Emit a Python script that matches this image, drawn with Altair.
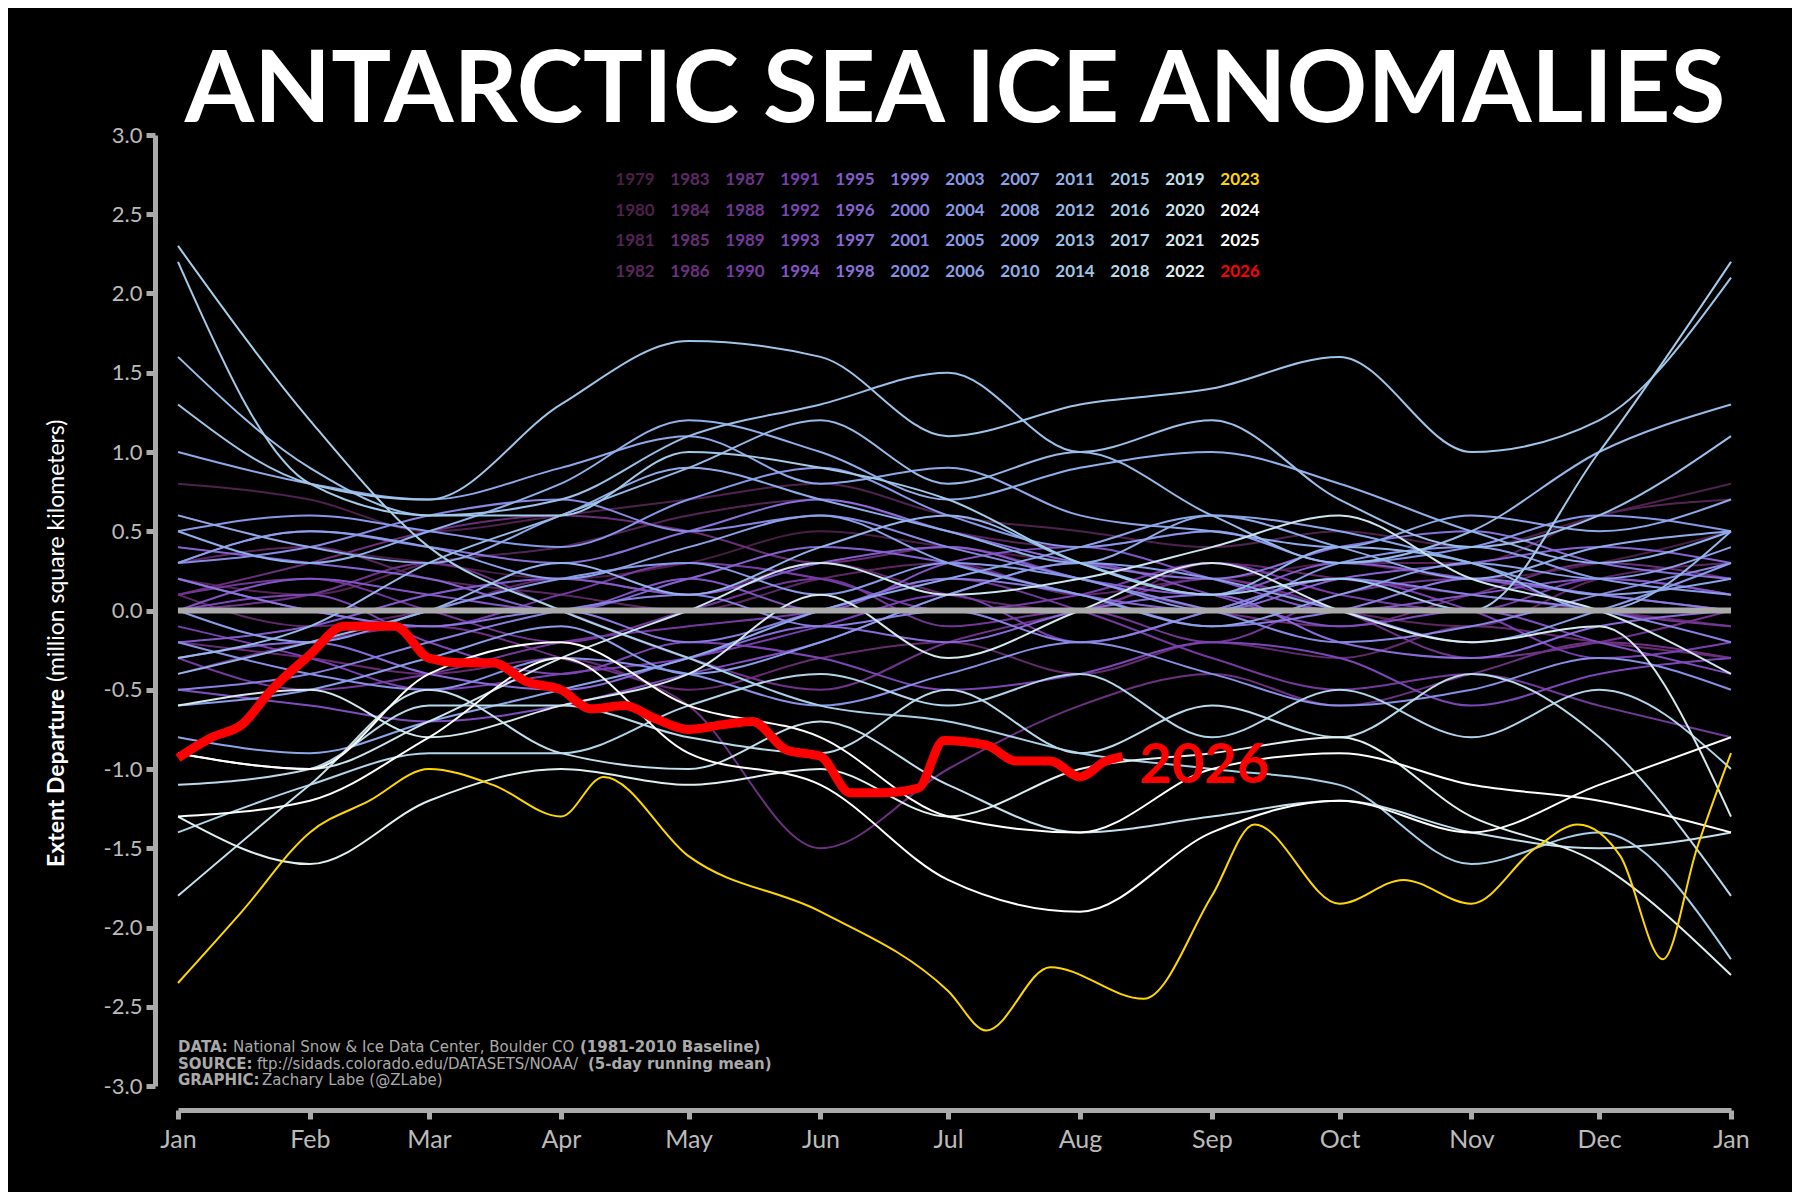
import altair as alt
import pandas as pd

# ---- data -------------------------------------------------------------------
MONTH_DAYS = [0, 31, 59, 90, 120, 151, 181, 212, 243, 273, 304, 334, 365]
MONTH_LABELS = ["Jan", "Feb", "Mar", "Apr", "May", "Jun", "Jul", "Aug",
                "Sep", "Oct", "Nov", "Dec", "Jan"]

history = {
    1979: [0.6, 0.4, 0.3, 0.2, 0.3, 0.5, 0.4, 0.3, 0.2, 0.3, 0.2, 0.3, 0.5],
    1980: [0.8, 0.7, 0.5, 0.6, 0.7, 0.8, 0.6, 0.5, 0.4, 0.5, 0.4, 0.6, 0.8],
    1981: [0.2, 0.1, 0.3, 0.4, 0.6, 0.7, 0.5, 0.4, 0.5, 0.3, 0.3, 0.6, 0.7],
    1982: [0.3, 0.4, 0.2, 0.1, 0.0, 0.2, 0.3, 0.1, 0.2, 0.0, -0.1, 0.2, 0.3],
    1983: [0.1, -0.1, 0.0, 0.2, 0.1, 0.3, 0.1, 0.0, 0.3, 0.2, 0.1, 0.0, -0.1],
    1984: [-0.2, -0.3, -0.4, -0.3, -0.5, -0.3, -0.2, -0.4, -0.2, -0.3, -0.1, -0.2, -0.3],
    1985: [0.1, 0.3, 0.5, 0.6, 0.5, 0.3, 0.4, 0.2, 0.0, -0.1, 0.1, 0.3, 0.2],
    1986: [-0.4, -0.2, -0.1, -0.3, -0.6, -1.5, -1.0, -0.6, -0.4, -0.6, -0.4, -0.2, -0.3],
    1987: [0.0, 0.1, 0.3, 0.0, -0.3, -0.5, -0.2, 0.0, 0.2, 0.0, -0.3, -0.2, 0.0],
    1988: [0.1, 0.2, 0.0, -0.2, 0.0, 0.2, -0.1, 0.0, -0.2, 0.1, 0.2, 0.0, -0.1],
    1989: [-0.3, -0.5, -0.4, -0.2, -0.1, 0.0, 0.2, 0.0, -0.3, -0.5, -0.4, -0.6, -0.8],
    1990: [0.2, 0.0, -0.1, 0.1, 0.3, 0.2, 0.0, 0.1, 0.3, 0.1, 0.0, 0.2, 0.1],
    1991: [-0.1, -0.3, -0.5, -0.4, -0.3, -0.1, 0.1, -0.2, 0.0, 0.2, 0.0, -0.3, -0.2],
    1992: [0.0, 0.1, -0.2, -0.4, -0.2, -0.3, -0.5, -0.4, -0.2, -0.3, -0.6, -0.4, -0.3],
    1993: [-0.5, -0.6, -0.7, -0.6, -0.4, -0.2, 0.1, 0.3, 0.1, -0.1, 0.0, -0.2, -0.4],
    1994: [0.0, 0.2, 0.1, 0.0, 0.2, 0.0, 0.3, 0.4, 0.2, 0.0, 0.1, 0.2, 0.1],
    1995: [-0.2, -0.1, 0.1, 0.2, 0.1, 0.3, 0.4, 0.2, 0.1, 0.3, 0.2, 0.1, 0.0],
    1996: [0.4, 0.3, 0.2, 0.0, 0.2, 0.4, 0.3, 0.1, 0.0, 0.2, 0.3, 0.4, 0.3],
    1997: [-0.3, -0.2, -0.4, -0.5, -0.3, -0.1, -0.2, 0.0, 0.1, -0.2, -0.3, -0.1, 0.0],
    1998: [0.3, 0.5, 0.4, 0.3, 0.5, 0.7, 0.5, 0.3, 0.2, 0.4, 0.5, 0.3, 0.2],
    1999: [0.2, 0.0, -0.1, 0.0, -0.2, 0.0, 0.2, 0.1, -0.1, 0.0, 0.2, 0.1, 0.0],
    2000: [-0.5, -0.4, -0.2, 0.0, 0.1, -0.1, 0.0, -0.2, 0.0, 0.2, 0.1, 0.0, -0.2],
    2001: [0.3, 0.4, 0.6, 0.7, 0.5, 0.6, 0.4, 0.2, 0.0, -0.2, -0.1, 0.1, 0.3],
    2002: [-0.2, -0.4, -0.5, -0.3, -0.4, -0.6, -0.4, -0.2, -0.4, -0.6, -0.5, -0.3, -0.5],
    2003: [0.5, 0.6, 0.5, 0.4, 0.7, 0.9, 0.6, 0.4, 0.5, 0.3, 0.4, 0.6, 0.5],
    2004: [0.0, -0.2, 0.0, 0.2, 0.3, 0.1, 0.3, 0.2, 0.0, 0.3, 0.4, 0.2, 0.1],
    2005: [-0.6, -0.5, -0.3, -0.1, -0.4, -0.2, 0.1, 0.3, 0.2, 0.0, -0.2, 0.0, 0.3],
    2006: [0.3, 0.5, 0.4, 0.2, 0.4, 0.6, 0.3, 0.1, -0.1, 0.1, 0.3, 0.2, 0.4],
    2007: [-0.8, -0.9, -0.7, -0.5, -0.3, 0.0, 0.2, 0.4, 0.6, 0.5, 0.3, 0.1, 0.2],
    2008: [1.0, 0.8, 0.7, 0.9, 1.1, 0.8, 0.9, 0.6, 0.5, 0.4, 0.6, 0.5, 0.7],
    2009: [0.6, 0.4, 0.3, 0.6, 0.9, 0.7, 0.5, 0.3, 0.6, 0.4, 0.2, 0.4, 0.5],
    2010: [0.5, 0.3, 0.5, 0.8, 1.2, 1.0, 0.7, 0.9, 1.0, 0.8, 0.5, 0.3, 0.5],
    2011: [-0.4, -0.2, 0.0, 0.3, 0.1, 0.4, 0.6, 0.3, 0.1, 0.4, 0.3, 0.0, 0.5],
    2012: [-0.3, -0.1, 0.3, 0.6, 0.9, 1.2, 0.8, 1.0, 0.6, 0.3, 0.5, 1.0, 1.3],
    2013: [1.6, 0.9, 0.6, 0.7, 1.1, 1.3, 1.5, 1.0, 1.2, 0.7, 0.4, 0.6, 1.1],
    2014: [1.3, 0.8, 0.7, 1.3, 1.7, 1.6, 1.1, 1.3, 1.4, 1.6, 1.0, 1.2, 2.1],
    2015: [2.2, 0.8, 0.6, 0.6, 1.0, 0.9, 0.7, 0.3, 0.1, 0.2, 0.0, 1.0, 2.2],
    2016: [2.3, 1.2, 0.4, 0.0, -0.3, -0.6, -0.7, -0.9, -1.0, -1.1, -1.6, -1.4, -2.2],
    2017: [-1.4, -1.1, -0.9, -0.9, -0.6, -0.4, -0.6, -0.4, -0.8, -0.5, -0.8, -0.5, -1.0],
    2018: [-1.1, -1.0, -0.6, -0.6, -0.8, -0.9, -0.5, -0.9, -0.6, -0.8, -0.4, -0.8, -1.8],
    2019: [-1.8, -1.1, -0.5, -0.9, -1.0, -0.7, -1.1, -1.4, -1.3, -1.2, -1.4, -1.5, -1.4],
    2020: [-0.9, -1.0, -0.7, -0.3, 0.0, 0.3, 0.1, 0.2, 0.4, 0.6, 0.2, 0.0, -0.4],
    2021: [-0.6, -0.5, -0.8, -0.6, -0.4, 0.1, -0.3, 0.0, 0.3, 0.0, -0.2, -0.1, -1.3],
    2022: [-1.3, -1.6, -1.2, -1.0, -1.1, -1.0, -1.3, -1.0, -0.9, -0.8, -1.3, -1.6, -2.3],
    2024: [-1.3, -1.2, -0.8, -0.3, -0.9, -1.1, -1.7, -1.9, -1.4, -1.2, -1.4, -1.1, -0.8],
    2025: [-0.9, -1.0, -0.4, -0.2, -0.6, -0.8, -1.3, -1.4, -1.0, -0.9, -1.1, -1.2, -1.4],
}

y2023_days = [0, 15, 31, 45, 59, 74, 90, 100, 120, 151, 181, 190, 205, 227, 243, 253,
              273, 288, 304, 319, 329, 339, 349, 357, 365]
y2023_vals = [-2.35, -1.9, -1.4, -1.2, -1.0, -1.1, -1.3, -1.05, -1.55, -1.9, -2.4, -2.65,
              -2.25, -2.45, -1.8, -1.35, -1.85, -1.7, -1.85, -1.5, -1.35, -1.55, -2.2, -1.5, -0.9]

y2026_days = [0, 8, 15, 22, 31, 39, 51, 59, 67, 74, 82, 90, 97, 105, 112, 120, 128, 135,
              143, 151, 158, 165, 174, 180, 190, 197, 205, 212, 218, 222]
y2026_vals = [-0.93, -0.8, -0.72, -0.5, -0.28, -0.1, -0.1, -0.3, -0.33, -0.33, -0.45, -0.5,
              -0.62, -0.6, -0.68, -0.75, -0.72, -0.7, -0.88, -0.92, -1.15, -1.15, -1.12, -0.82,
              -0.85, -0.95, -0.95, -1.05, -0.95, -0.92]

# colour ramp anchors (style)
RAMP = [(1979, (74, 31, 69)), (1985, (106, 47, 120)), (1991, (122, 63, 176)),
        (1997, (138, 106, 216)), (2003, (136, 152, 232)), (2010, (143, 176, 234)),
        (2016, (168, 208, 232)), (2022, (224, 240, 240))]
SPECIAL = {2023: "#ffd700", 2024: "#ffffff", 2025: "#ffffff", 2026: "#ff0000"}


def year_color(y):
    if y in SPECIAL:
        return SPECIAL[y]
    for (y0, c0), (y1, c1) in zip(RAMP[:-1], RAMP[1:]):
        if y0 <= y <= y1:
            t = (y - y0) / (y1 - y0)
            return "#%02x%02x%02x" % tuple(int(a + (b - a) * t) for a, b in zip(c0, c1))
    return "#ffffff"


rows = []
for y, vals in history.items():
    for d, v in zip(MONTH_DAYS, vals):
        rows.append({"year": y, "day": d, "value": v, "col": year_color(y)})
hist = pd.DataFrame(rows)
d2023 = pd.DataFrame({"day": y2023_days, "value": y2023_vals})
d2026 = pd.DataFrame({"day": y2026_days, "value": y2026_vals})

legend = pd.DataFrame({"year": list(range(1979, 2027))})
legend["col"] = legend["year"].map(year_color)
legend["label"] = legend["year"].astype(str)

# ---- chart -----------------------------------------------------------------
W, H = 1553, 951
GRAY = "#aaaaaa"
FONT = "Lato"
FOOT_FONT = "DejaVu Sans"

x_enc = alt.X("day:Q", scale=alt.Scale(domain=[0, 365], nice=False),
              axis=alt.Axis(values=MONTH_DAYS, title=None, grid=False, offset=24,
                            labelExpr="%s[indexof(%s, datum.value)]" % (MONTH_LABELS, MONTH_DAYS),
                            labelFontSize=25, labelColor="#bbbbbb", labelPadding=8,
                            labelFlush=False,
                            domainColor=GRAY, domainWidth=5, tickColor=GRAY,
                            tickWidth=5, tickSize=9, labelFont=FONT))
y_enc = alt.Y("value:Q", scale=alt.Scale(domain=[-3, 3], nice=False),
              axis=alt.Axis(values=[i / 2 for i in range(-6, 7)], title=None, grid=False,
                            offset=23, labelExpr="replace(format(datum.value, '.1f'), '\u2212', '-')",
                            labelFontSize=22, labelColor="#bbbbbb", labelPadding=4,
                            labelFlush=False,
                            domainColor=GRAY, domainWidth=5, tickColor=GRAY,
                            tickWidth=5, tickSize=9, labelFont=FONT))

zero = alt.Chart(pd.DataFrame({"v": [0]})).mark_rule(color=GRAY, strokeWidth=6).encode(
    y=alt.Y("v:Q"), x=alt.value(0), x2=alt.value(W))

lines = alt.Chart(hist).mark_line(strokeWidth=2, interpolate="monotone").encode(
    x_enc, y_enc, detail="year:N", color=alt.Color("col:N", scale=None))
line23 = alt.Chart(d2023).mark_line(strokeWidth=2, color="#ffd700",
                                    interpolate="monotone").encode(x="day:Q", y="value:Q")
line26 = alt.Chart(d2026).mark_line(strokeWidth=9, color="#ff0000",
                                    interpolate="monotone").encode(x="day:Q", y="value:Q")
lbl26 = alt.Chart(pd.DataFrame({"t": ["2026"]})).mark_text(
    color="#ff0000", fontSize=56, fontWeight="bold", font=FONT, align="left",
    baseline="middle").encode(x=alt.datum(226), y=alt.datum(-0.98), text="t:N")

leg = alt.Chart(legend).transform_calculate(
    px="457 + floor((datum.year - 1979) / 4) * 55",
    py="45 + ((datum.year - 1979) % 4) * 30.7",
).mark_text(fontSize=17, font=FONT, fontWeight="bold", align="center", baseline="middle").encode(
    x=alt.X("px:Q", scale=None), y=alt.Y("py:Q", scale=None),
    text="label:N", color=alt.Color("col:N", scale=None))

title = alt.Chart(pd.DataFrame({"t": ["ANTARCTIC SEA ICE ANOMALIES"]})).mark_text(
    color="white", fontSize=100, fontWeight="bold", font=FONT, align="center",
    baseline="alphabetic").encode(x=alt.value(777), y=alt.value(-13), text="t:N")

ytitle_b = alt.Chart(pd.DataFrame({"t": ["Extent Departure"]})).mark_text(
    color="white", fontSize=23, fontWeight="bold", font=FONT, angle=270, align="right",
    baseline="middle").encode(x=alt.value(-121), y=alt.value(554), text="t:N")
ytitle_r = alt.Chart(pd.DataFrame({"t": ["(million square kilometers)"]})).mark_text(
    color="white", fontSize=23, font=FONT, angle=270, align="left",
    baseline="middle").encode(x=alt.value(-121), y=alt.value(547), text="t:N")

foot_rows = [
    ("DATA:", 0, 912, "bold"), ("National Snow & Ice Data Center, Boulder CO", 55, 912, "normal"),
    ("(1981-2010 Baseline)", 402, 912, "bold"),
    ("SOURCE:", 0, 929, "bold"), ("ftp://sidads.colorado.edu/DATASETS/NOAA/", 79, 929, "normal"),
    ("(5-day running mean)", 410, 929, "bold"),
    ("GRAPHIC:", 0, 945, "bold"), ("Zachary Labe (@ZLabe)", 84, 945, "normal"),
]
foot_layers = [
    alt.Chart(pd.DataFrame({"t": [t]})).mark_text(
        color="#aaaaaa", fontSize=15, font=FOOT_FONT, fontWeight=w, align="left",
        baseline="middle").encode(x=alt.value(x), y=alt.value(y), text="t:N")
    for t, x, y, w in foot_rows
]

chart = alt.layer(lines, zero, line23, line26, lbl26, leg, title, ytitle_b, ytitle_r,
                  *foot_layers).properties(
    width=W, height=H, autosize=alt.AutoSizeParams(type="none"),
    padding={"left": 170, "top": 127, "right": 61, "bottom": 106},
).configure(background="black").configure_view(stroke=None)

chart.save("out.html", embed_options={"renderer": "svg", "actions": False})
